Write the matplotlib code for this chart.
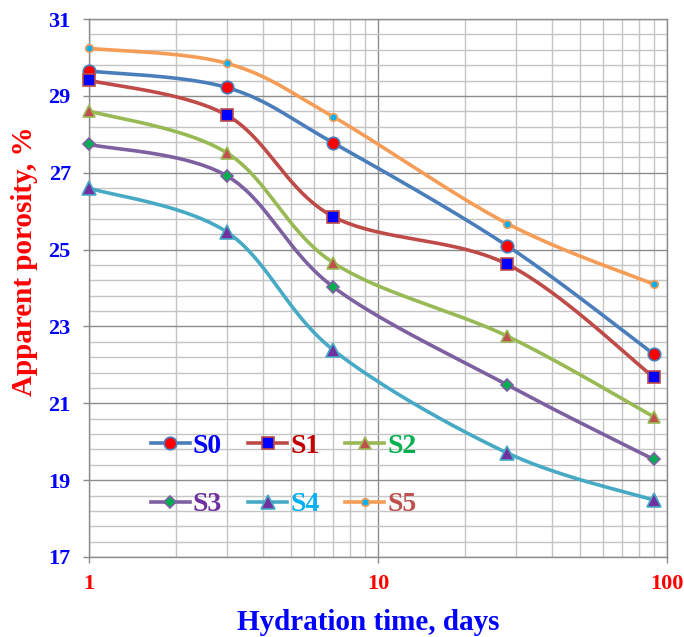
import numpy as np
import matplotlib.pyplot as plt
from matplotlib.ticker import FixedLocator, NullFormatter

# hydration time (days) and apparent porosity (%) per mix
days = [1, 3, 7, 28, 90]
s0 = [29.65, 29.22, 27.78, 25.10, 22.28]
s1 = [29.41, 28.50, 25.86, 24.62, 21.68]
s2 = [28.61, 27.52, 24.66, 22.75, 20.65]
s3 = [27.74, 26.92, 24.03, 21.48, 19.54]
s4 = [26.60, 25.46, 22.39, 19.71, 18.48]
s5 = [30.24, 29.85, 28.46, 25.68, 24.10]
names = ['S0', 'S1', 'S2', 'S3', 'S4', 'S5']
y_major = [17, 19, 21, 23, 25, 27, 29, 31]

plt.rcParams['font.family'] = ['Liberation Serif', 'DejaVu Serif']
plt.rcParams['font.weight'] = 'bold'

XMIN, XMAX, YMIN, YMAX = 1, 100, 17, 31
W_PX, H_PX = 578.0, 538.0


def smooth(xs, ys, n=40):
    # bezier smoothing done in screen-like space (log x)
    u = np.log10(np.array(xs, float)) / np.log10(XMAX) * W_PX
    v = (np.array(ys, float) - YMIN) / (YMAX - YMIN) * H_PX
    P = np.column_stack([u, v])
    P = np.vstack([P[0], P, P[-1]])
    out = []
    for i in range(1, len(P) - 2):
        p0, p1, p2, p3 = P[i - 1], P[i], P[i + 1], P[i + 2]
        c1 = p1 + (p2 - p0) / 6.0
        c2 = p2 - (p3 - p1) / 6.0
        t = np.linspace(0, 1, n)[:, None]
        seg = ((1 - t) ** 3) * p1 + 3 * ((1 - t) ** 2) * t * c1 + 3 * (1 - t) * t ** 2 * c2 + t ** 3 * p2
        out.append(seg if i == 1 else seg[1:])
    out = np.vstack(out)
    xs_s = 10 ** (out[:, 0] / W_PX * np.log10(XMAX))
    ys_s = out[:, 1] / H_PX * (YMAX - YMIN) + YMIN
    return xs_s, ys_s


series = [s0, s1, s2, s3, s4, s5]
line_c = ['#4A7EBB', '#BE4B48', '#98B954', '#7D60A0', '#46AAC5', '#F59D56']
mark = ['o', 's', '^', 'D', '^', 'o']
mark_fc = ['#FF0000', '#0000FF', '#C0504D', '#00B050', '#7030A0', '#00B0F0']
mark_ec = ['#4A7EBB', '#BE4B48', '#98B954', '#7D60A0', '#46AAC5', '#F59D56']
mark_sz = [9, 8.5, 9, 6, 9.5, 5.5]
text_c = ['#0000FF', '#C00000', '#00B050', '#7030A0', '#00B0F0', '#C0504D']

fig = plt.figure(figsize=(6.84, 6.37), dpi=100)
ax = fig.add_axes([0.130, 0.1256, 0.845, 0.8444])

handles = []
for ys, lc, m, fc, ec, ms, nm in zip(series, line_c, mark, mark_fc, mark_ec, mark_sz, names):
    sx, sy = smooth(days, ys)
    ax.plot(sx, sy, color=lc, lw=2.6, zorder=3, solid_capstyle='round')
    ax.plot(days, ys, ls='none', marker=m, ms=ms, mfc=fc, mec=ec, mew=1.2, zorder=4, clip_on=False)
    h, = ax.plot([], [], color=lc, lw=2.6, marker=m, ms=ms, mfc=fc, mec=ec, mew=1.2, label=nm)
    handles.append(h)

ax.set_xscale('log')
ax.set_xlim(XMIN, XMAX)
ax.set_ylim(YMIN, YMAX)
ax.xaxis.set_major_locator(FixedLocator([1, 10, 100]))
ax.xaxis.set_minor_locator(FixedLocator([k * d for d in (1, 10) for k in range(2, 10)]))
ax.xaxis.set_minor_formatter(NullFormatter())
ax.set_xticks([1, 10, 100], ['1', '10', '100'])
ax.set_yticks(y_major, [str(v) for v in y_major])
ax.yaxis.set_minor_locator(FixedLocator(np.arange(17.4, 31, 0.4)))

ax.grid(which='major', color='#8C8C8C', lw=1.0, zorder=1)
ax.grid(which='minor', color='#C4C4C4', lw=1.0, zorder=1)
ax.set_axisbelow(True)
for sp in ax.spines.values():
    sp.set_color('#8C8C8C')
    sp.set_linewidth(1.0)

ax.tick_params(which='major', length=4, color='#8C8C8C', width=1.0)
ax.tick_params(which='minor', length=0)
ax.tick_params(axis='y', labelsize=16, labelcolor='#0000FF', pad=9)
ax.tick_params(axis='x', labelsize=16, labelcolor='#FF0000', pad=8)
for lb in ax.get_xticklabels() + ax.get_yticklabels():
    lb.set_fontweight('bold')

ax.set_xlabel('Hydration time, days', fontsize=21, fontweight='bold', color='#0000FF')
ax.set_ylabel('Apparent porosity, %', fontsize=21, fontweight='bold', color='#FF0000')
ax.xaxis.set_label_coords(0.483, -0.097)
ax.yaxis.set_label_coords(-0.088, 0.55)

# legend filled row by row
order = [0, 3, 1, 4, 2, 5]
leg = ax.legend([handles[i] for i in order], [names[i] for i in order],
                loc='center left', bbox_to_anchor=(0.107, 0.152), ncol=3, frameon=False,
                fontsize=20, handlelength=1.42, handletextpad=0.1, columnspacing=0.92,
                labelspacing=1.2, borderaxespad=0, borderpad=0)
for txt, i in zip(leg.get_texts(), order):
    txt.set_color(text_c[i])
    txt.set_fontweight('bold')

fig.savefig('out.png', dpi=100)
